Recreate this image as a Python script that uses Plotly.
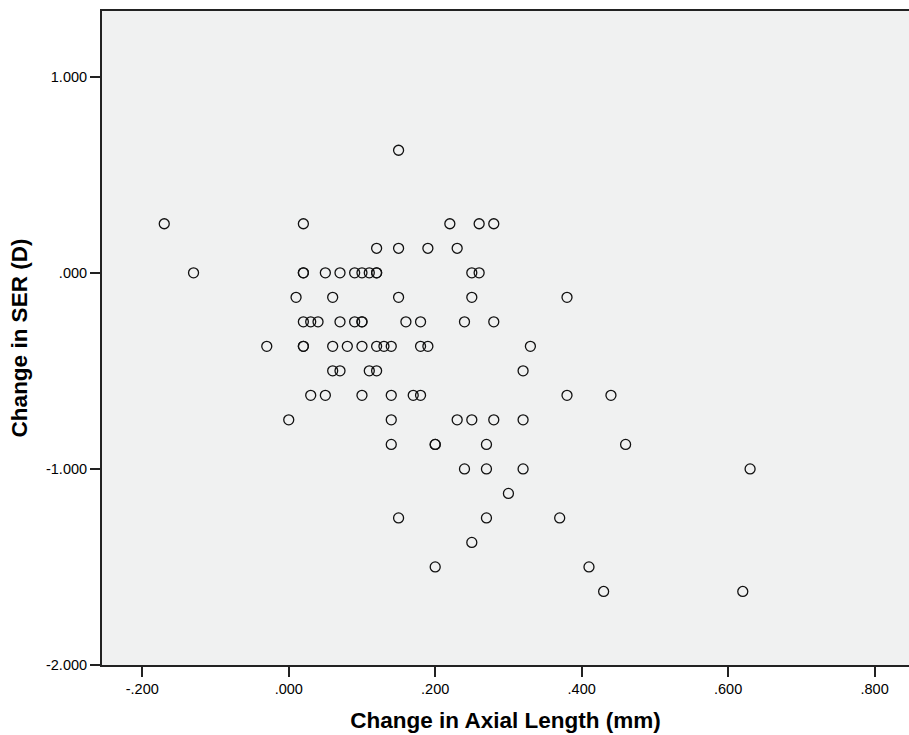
import plotly.graph_objects as go

# Data (SER changes quantised at 0.125 D)
ser_levels = [0.625, 0.25, 0.125, 0.0, -0.125, -0.25, -0.375, -0.5, -0.625,
              -0.75, -0.875, -1.0, -1.125, -1.25, -1.375, -1.5, -1.625]
axial_by_level = [
    [0.15],
    [-0.17, 0.02, 0.22, 0.26, 0.28],
    [0.12, 0.15, 0.19, 0.23],
    [-0.13, 0.02, 0.02, 0.05, 0.07, 0.09, 0.10, 0.11, 0.12, 0.12, 0.25, 0.26],
    [0.01, 0.06, 0.15, 0.25, 0.38],
    [0.02, 0.03, 0.04, 0.07, 0.09, 0.10, 0.10, 0.16, 0.18, 0.24, 0.28],
    [-0.03, 0.02, 0.02, 0.06, 0.08, 0.10, 0.12, 0.13, 0.14, 0.18, 0.19, 0.33],
    [0.06, 0.07, 0.11, 0.12, 0.32],
    [0.03, 0.05, 0.10, 0.14, 0.17, 0.18, 0.38, 0.44],
    [0.00, 0.14, 0.23, 0.25, 0.28, 0.32],
    [0.14, 0.20, 0.20, 0.27, 0.46],
    [0.24, 0.27, 0.32, 0.63],
    [0.30],
    [0.15, 0.27, 0.37],
    [0.25],
    [0.20, 0.41],
    [0.43, 0.62],
]

x_tick_vals = [-0.2, 0.0, 0.2, 0.4, 0.6, 0.8]
x_tick_text = ["-.200", ".000", ".200", ".400", ".600", ".800"]
y_tick_vals = [1.0, 0.0, -1.0, -2.0]
y_tick_text = ["1.000", ".000", "-1.000", "-2.000"]

xs, ys = [], []
for lvl, vals in zip(ser_levels, axial_by_level):
    for v in vals:
        xs.append(v)
        ys.append(lvl)

fig = go.Figure()
fig.add_trace(go.Scatter(
    x=xs, y=ys, mode="markers",
    marker=dict(symbol="circle-open", size=10, color="#111111",
                line=dict(width=1.3, color="#111111")),
    showlegend=False, hoverinfo="x+y",
))

font_family = "Liberation Sans, Arial, Helvetica, sans-serif"

fig.update_layout(
    width=909, height=735,
    margin=dict(l=102, r=0, t=11, b=70),
    paper_bgcolor="white",
    plot_bgcolor="#f0f1f1",
    font=dict(family=font_family, color="black", size=14.5),
    xaxis=dict(
        range=[-0.255, 0.847],
        tickvals=x_tick_vals, ticktext=x_tick_text,
        showgrid=False, zeroline=False,
        showline=True, linecolor="#222222", linewidth=2, mirror=True,
        ticks="outside", ticklen=10, tickwidth=1.5, tickcolor="#222222",
        tickfont=dict(size=14.5, family=font_family),
        title=dict(text="<b>Change in Axial Length (mm)</b>",
                   font=dict(size=22.5, family=font_family), standoff=16),
    ),
    yaxis=dict(
        range=[-2.0, 1.335],
        tickvals=y_tick_vals, ticktext=y_tick_text,
        showgrid=False, zeroline=False,
        showline=True, linecolor="#222222", linewidth=2,
        ticks="outside", ticklen=10, tickwidth=1.5, tickcolor="#222222",
        tickfont=dict(size=14.5, family=font_family),
        title=dict(text="<b>Change in SER (D)</b>",
                   font=dict(size=22.5, family=font_family), standoff=12),
    ),
)

fig.write_html(
    "out.html",
    config={"displayModeBar": False},
    post_script="document.body.style.margin='0px';document.body.style.overflow='hidden';",
)
